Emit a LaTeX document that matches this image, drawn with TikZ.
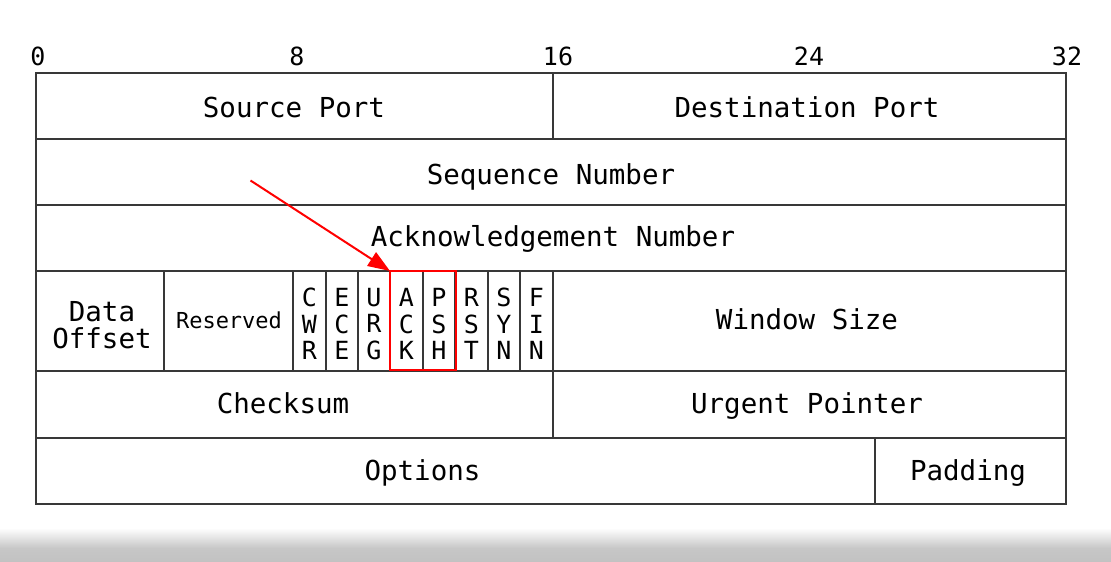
\documentclass[tikz,border=0pt]{standalone}
\usepackage{fontspec}
\newfontfamily\monofnt{DejaVu Sans Mono}
\usetikzlibrary{arrows.meta}
\begin{document}
\begin{tikzpicture}[x=1pt,y=-1pt,
  grid/.style={draw=black!78, line width=1.3pt},
  lbl/.style={font=\monofnt\fontsize{27.5}{27}\selectfont, inner sep=0pt, anchor=base},
  num/.style={font=\monofnt\fontsize{25}{27}\selectfont, inner sep=0pt, anchor=base},
  small/.style={font=\monofnt\fontsize{22}{24}\selectfont, inner sep=0pt, anchor=base},
  flag/.style={font=\monofnt\fontsize{25}{26.5}\selectfont, inner sep=0pt, anchor=center, align=center},
  twoline/.style={font=\monofnt\fontsize{27.5}{27}\selectfont, inner sep=0pt, anchor=center, align=center},
  hilite/.style={draw=red, line width=2.8pt, inner sep=0pt, outer sep=0pt, anchor=north west},
  redarrow/.style={draw=red, line width=2pt, -{Triangle[length=22pt,width=16pt]}}]
% page
\fill[white] (0,0) rectangle (1111,562);
\shade[top color=white, bottom color=black!22] (0,528) rectangle (1111,548);
\shade[top color=black!22, bottom color=black!24] (0,548) rectangle (1111,562);
\useasboundingbox (0,0) rectangle (1111,562);
% bit numbers
\node[num] (b0) at (38,65) {0};
\node[num] (b8) at (297,65) {8};
\node[num] (b16) at (558,65) {16};
\node[num] (b24) at (809,65) {24};
\node[num] (b32) at (1067,65) {32};
% grid
\draw[grid] (36,73) rectangle (1066,504);
\foreach \yy in {139,205,271,371,438} \draw[grid] (36,\yy) -- (1066,\yy);
\draw[grid] (553,73) -- (553,139);
\foreach \xx in {164,293,326,358,390,423,455,488,520,553} \draw[grid] (\xx,271) -- (\xx,371);
\draw[grid] (553,371) -- (553,438);
\draw[grid] (875,438) -- (875,504);
% labels
\node[lbl] (srcport) at (294,117) {Source Port};
\node[lbl] (dstport) at (807,117) {Destination Port};
\node[lbl] (seqnum) at (551,184) {Sequence Number};
\node[lbl] (acknum) at (553,246) {Acknowledgement Number};
\node[twoline] (doff) at (102,325) {Data\\Offset};
\node[small] (resv) at (229,328) {Reserved};
\node[flag] (cwr) at (309.5,324) {C\\W\\R};
\node[flag] (ece) at (342,324) {E\\C\\E};
\node[flag] (urg) at (374,324) {U\\R\\G};
\node[flag] (ack) at (406.5,324) {A\\C\\K};
\node[flag] (psh) at (439,324) {P\\S\\H};
\node[flag] (rst) at (471.5,324) {R\\S\\T};
\node[flag] (syn) at (504,324) {S\\Y\\N};
\node[flag] (fin) at (536.5,324) {F\\I\\N};
\node[lbl] (win) at (807,329) {Window Size};
\node[lbl] (csum) at (283,413) {Checksum};
\node[lbl] (urgp) at (807,413) {Urgent Pointer};
\node[lbl] (opts) at (422.5,480) {Options};
\node[lbl] (pad) at (968,480) {Padding};
% highlight and arrow
\node[hilite, minimum width=66pt, minimum height=99pt] (ackpsh) at (390,271) {};
\coordinate (arrowstart) at (250.5,180.5);
\draw[redarrow] (arrowstart) -- (ackpsh.north west);
\end{tikzpicture}
\end{document}
